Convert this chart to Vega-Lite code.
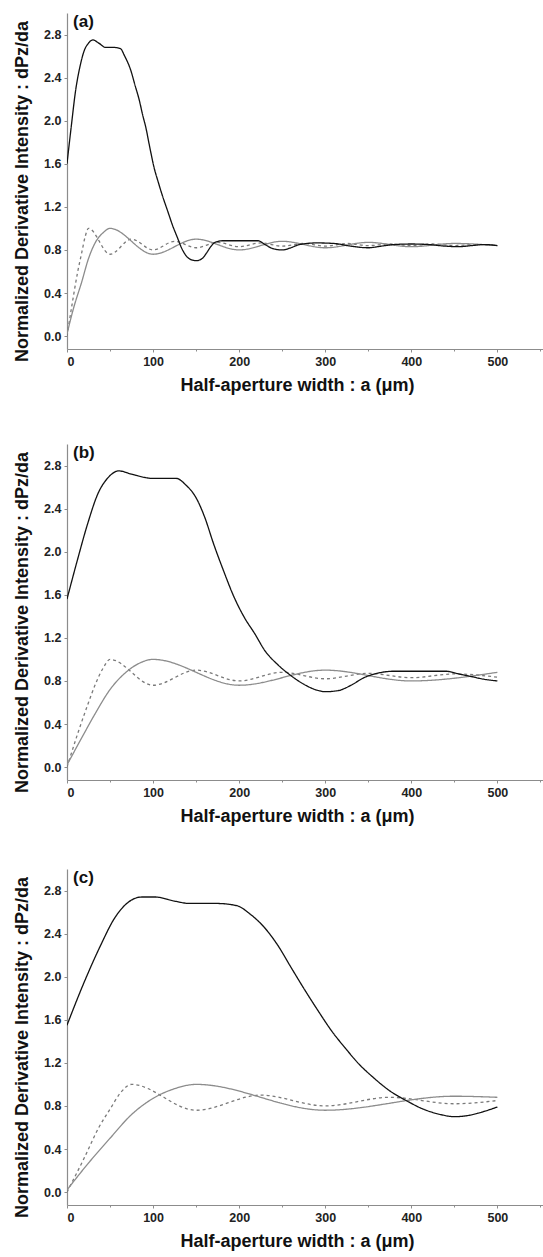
{
"$schema": "https://vega.github.io/schema/vega-lite/v6.json",
"padding": {"left": 13, "top": 12, "right": 0, "bottom": 0},
"background": "white",
"datasets": {
"labels": [{"panel":"a","label":"(a)"},{"panel":"b","label":"(b)"},{"panel":"c","label":"(c)"}],
"curves": [
{"panel":"a","series":"dot","x":0,"y":0.0},{"panel":"a","series":"dot","x":6,"y":0.3},{"panel":"a","series":"dot","x":12.5,"y":0.6},{"panel":"a","series":"dot","x":17,"y":0.77},{"panel":"a","series":"dot","x":21,"y":0.92},{"panel":"a","series":"dot","x":25,"y":1.0},{"panel":"a","series":"dot","x":50,"y":0.76},{"panel":"a","series":"dot","x":75,"y":0.9},{"panel":"a","series":"dot","x":100,"y":0.8},{"panel":"a","series":"dot","x":125,"y":0.88},{"panel":"a","series":"dot","x":150,"y":0.82},{"panel":"a","series":"dot","x":175,"y":0.87},{"panel":"a","series":"dot","x":200,"y":0.83},{"panel":"a","series":"dot","x":225,"y":0.865},{"panel":"a","series":"dot","x":250,"y":0.835},{"panel":"a","series":"dot","x":275,"y":0.86},{"panel":"a","series":"dot","x":300,"y":0.835},{"panel":"a","series":"dot","x":325,"y":0.86},{"panel":"a","series":"dot","x":350,"y":0.84},{"panel":"a","series":"dot","x":375,"y":0.855},{"panel":"a","series":"dot","x":400,"y":0.84},{"panel":"a","series":"dot","x":425,"y":0.855},{"panel":"a","series":"dot","x":450,"y":0.84},{"panel":"a","series":"dot","x":475,"y":0.85},{"panel":"a","series":"dot","x":500,"y":0.84},
{"panel":"a","series":"gray","x":0,"y":0.02},{"panel":"a","series":"gray","x":8,"y":0.27},{"panel":"a","series":"gray","x":17,"y":0.5},{"panel":"a","series":"gray","x":25,"y":0.72},{"panel":"a","series":"gray","x":33,"y":0.87},{"panel":"a","series":"gray","x":42,"y":0.96},{"panel":"a","series":"gray","x":50,"y":1.0},{"panel":"a","series":"gray","x":100,"y":0.76},{"panel":"a","series":"gray","x":150,"y":0.9},{"panel":"a","series":"gray","x":200,"y":0.8},{"panel":"a","series":"gray","x":250,"y":0.88},{"panel":"a","series":"gray","x":300,"y":0.82},{"panel":"a","series":"gray","x":350,"y":0.87},{"panel":"a","series":"gray","x":400,"y":0.83},{"panel":"a","series":"gray","x":450,"y":0.86},{"panel":"a","series":"gray","x":500,"y":0.84},
{"panel":"a","series":"black","x":0,"y":1.6},{"panel":"a","series":"black","x":5,"y":1.95},{"panel":"a","series":"black","x":10,"y":2.28},{"panel":"a","series":"black","x":15,"y":2.5},{"panel":"a","series":"black","x":20,"y":2.65},{"panel":"a","series":"black","x":25,"y":2.72},{"panel":"a","series":"black","x":30,"y":2.75},{"panel":"a","series":"black","x":37,"y":2.72},{"panel":"a","series":"black","x":45,"y":2.68},{"panel":"a","series":"black","x":55,"y":2.68},{"panel":"a","series":"black","x":62,"y":2.67},{"panel":"a","series":"black","x":67,"y":2.6},{"panel":"a","series":"black","x":74,"y":2.47},{"panel":"a","series":"black","x":79,"y":2.33},{"panel":"a","series":"black","x":84,"y":2.19},{"panel":"a","series":"black","x":88,"y":2.05},{"panel":"a","series":"black","x":91.5,"y":1.94},{"panel":"a","series":"black","x":96,"y":1.76},{"panel":"a","series":"black","x":101,"y":1.57},{"panel":"a","series":"black","x":106,"y":1.43},{"panel":"a","series":"black","x":111,"y":1.3},{"panel":"a","series":"black","x":117,"y":1.16},{"panel":"a","series":"black","x":123,"y":1.02},{"panel":"a","series":"black","x":128,"y":0.92},{"panel":"a","series":"black","x":133,"y":0.82},{"panel":"a","series":"black","x":139,"y":0.74},{"panel":"a","series":"black","x":144,"y":0.71},{"panel":"a","series":"black","x":150,"y":0.7},{"panel":"a","series":"black","x":157,"y":0.72},{"panel":"a","series":"black","x":162,"y":0.77},{"panel":"a","series":"black","x":167,"y":0.83},{"panel":"a","series":"black","x":172,"y":0.87},{"panel":"a","series":"black","x":180,"y":0.885},{"panel":"a","series":"black","x":222,"y":0.885},{"panel":"a","series":"black","x":230,"y":0.85},{"panel":"a","series":"black","x":240,"y":0.81},{"panel":"a","series":"black","x":250,"y":0.8},{"panel":"a","series":"black","x":260,"y":0.82},{"panel":"a","series":"black","x":270,"y":0.85},{"panel":"a","series":"black","x":290,"y":0.865},{"panel":"a","series":"black","x":310,"y":0.86},{"panel":"a","series":"black","x":330,"y":0.835},{"panel":"a","series":"black","x":350,"y":0.82},{"panel":"a","series":"black","x":365,"y":0.835},{"panel":"a","series":"black","x":380,"y":0.85},{"panel":"a","series":"black","x":400,"y":0.855},{"panel":"a","series":"black","x":420,"y":0.85},{"panel":"a","series":"black","x":440,"y":0.835},{"panel":"a","series":"black","x":455,"y":0.83},{"panel":"a","series":"black","x":470,"y":0.84},{"panel":"a","series":"black","x":485,"y":0.85},{"panel":"a","series":"black","x":500,"y":0.84},
{"panel":"b","series":"dot","x":0,"y":0.0},{"panel":"b","series":"dot","x":12,"y":0.3},{"panel":"b","series":"dot","x":25,"y":0.6},{"panel":"b","series":"dot","x":33,"y":0.77},{"panel":"b","series":"dot","x":42,"y":0.92},{"panel":"b","series":"dot","x":50,"y":1.0},{"panel":"b","series":"dot","x":100,"y":0.76},{"panel":"b","series":"dot","x":150,"y":0.9},{"panel":"b","series":"dot","x":200,"y":0.8},{"panel":"b","series":"dot","x":250,"y":0.88},{"panel":"b","series":"dot","x":300,"y":0.82},{"panel":"b","series":"dot","x":350,"y":0.87},{"panel":"b","series":"dot","x":400,"y":0.83},{"panel":"b","series":"dot","x":450,"y":0.865},{"panel":"b","series":"dot","x":500,"y":0.835},
{"panel":"b","series":"gray","x":0,"y":0.02},{"panel":"b","series":"gray","x":17,"y":0.27},{"panel":"b","series":"gray","x":33,"y":0.5},{"panel":"b","series":"gray","x":50,"y":0.72},{"panel":"b","series":"gray","x":67,"y":0.87},{"panel":"b","series":"gray","x":83,"y":0.96},{"panel":"b","series":"gray","x":100,"y":1.0},{"panel":"b","series":"gray","x":200,"y":0.76},{"panel":"b","series":"gray","x":300,"y":0.9},{"panel":"b","series":"gray","x":400,"y":0.8},{"panel":"b","series":"gray","x":500,"y":0.88},
{"panel":"b","series":"black","x":0,"y":1.56},{"panel":"b","series":"black","x":12,"y":1.92},{"panel":"b","series":"black","x":24,"y":2.26},{"panel":"b","series":"black","x":36,"y":2.54},{"panel":"b","series":"black","x":48,"y":2.69},{"panel":"b","series":"black","x":60,"y":2.75},{"panel":"b","series":"black","x":75,"y":2.72},{"panel":"b","series":"black","x":90,"y":2.69},{"panel":"b","series":"black","x":100,"y":2.68},{"panel":"b","series":"black","x":127,"y":2.68},{"panel":"b","series":"black","x":138,"y":2.62},{"panel":"b","series":"black","x":150,"y":2.5},{"panel":"b","series":"black","x":160,"y":2.32},{"panel":"b","series":"black","x":170,"y":2.08},{"panel":"b","series":"black","x":182,"y":1.82},{"panel":"b","series":"black","x":194,"y":1.58},{"panel":"b","series":"black","x":206,"y":1.39},{"panel":"b","series":"black","x":218,"y":1.24},{"panel":"b","series":"black","x":230,"y":1.08},{"panel":"b","series":"black","x":245,"y":0.95},{"panel":"b","series":"black","x":260,"y":0.85},{"panel":"b","series":"black","x":275,"y":0.77},{"panel":"b","series":"black","x":290,"y":0.715},{"panel":"b","series":"black","x":300,"y":0.7},{"panel":"b","series":"black","x":315,"y":0.71},{"panel":"b","series":"black","x":330,"y":0.76},{"panel":"b","series":"black","x":345,"y":0.83},{"panel":"b","series":"black","x":360,"y":0.87},{"panel":"b","series":"black","x":380,"y":0.89},{"panel":"b","series":"black","x":440,"y":0.89},{"panel":"b","series":"black","x":455,"y":0.865},{"panel":"b","series":"black","x":470,"y":0.84},{"panel":"b","series":"black","x":485,"y":0.815},{"panel":"b","series":"black","x":500,"y":0.8},
{"panel":"c","series":"dot","x":0,"y":0.0},{"panel":"c","series":"dot","x":19,"y":0.3},{"panel":"c","series":"dot","x":37,"y":0.6},{"panel":"c","series":"dot","x":50,"y":0.77},{"panel":"c","series":"dot","x":62,"y":0.92},{"panel":"c","series":"dot","x":75,"y":1.0},{"panel":"c","series":"dot","x":150,"y":0.76},{"panel":"c","series":"dot","x":225,"y":0.9},{"panel":"c","series":"dot","x":300,"y":0.8},{"panel":"c","series":"dot","x":375,"y":0.88},{"panel":"c","series":"dot","x":450,"y":0.82},{"panel":"c","series":"dot","x":500,"y":0.85},
{"panel":"c","series":"gray","x":0,"y":0.02},{"panel":"c","series":"gray","x":25,"y":0.27},{"panel":"c","series":"gray","x":50,"y":0.5},{"panel":"c","series":"gray","x":75,"y":0.72},{"panel":"c","series":"gray","x":100,"y":0.87},{"panel":"c","series":"gray","x":125,"y":0.96},{"panel":"c","series":"gray","x":150,"y":1.0},{"panel":"c","series":"gray","x":300,"y":0.76},{"panel":"c","series":"gray","x":450,"y":0.89},{"panel":"c","series":"gray","x":500,"y":0.88},
{"panel":"c","series":"black","x":0,"y":1.55},{"panel":"c","series":"black","x":20,"y":1.95},{"panel":"c","series":"black","x":39,"y":2.29},{"panel":"c","series":"black","x":55,"y":2.54},{"panel":"c","series":"black","x":71,"y":2.69},{"panel":"c","series":"black","x":87,"y":2.74},{"panel":"c","series":"black","x":102,"y":2.74},{"panel":"c","series":"black","x":126,"y":2.7},{"panel":"c","series":"black","x":142,"y":2.68},{"panel":"c","series":"black","x":174,"y":2.68},{"panel":"c","series":"black","x":197,"y":2.66},{"panel":"c","series":"black","x":213,"y":2.58},{"panel":"c","series":"black","x":229,"y":2.46},{"panel":"c","series":"black","x":245,"y":2.29},{"panel":"c","series":"black","x":260,"y":2.09},{"panel":"c","series":"black","x":276,"y":1.88},{"panel":"c","series":"black","x":292,"y":1.68},{"panel":"c","series":"black","x":308,"y":1.49},{"panel":"c","series":"black","x":323,"y":1.34},{"panel":"c","series":"black","x":339,"y":1.19},{"panel":"c","series":"black","x":355,"y":1.07},{"panel":"c","series":"black","x":375,"y":0.94},{"panel":"c","series":"black","x":394,"y":0.85},{"panel":"c","series":"black","x":414,"y":0.77},{"panel":"c","series":"black","x":434,"y":0.72},{"panel":"c","series":"black","x":450,"y":0.7},{"panel":"c","series":"black","x":465,"y":0.71},{"panel":"c","series":"black","x":485,"y":0.75},{"panel":"c","series":"black","x":500,"y":0.79}
]
},
"spacing": 95,
"bounds": "flush",
"vconcat": [
{
"width": 476, "height": 336,
"layer": [
{"data": {"name": "curves"}, "transform": [{"filter": "datum.panel == 'a'"}],
 "mark": {"type": "line", "interpolate": "monotone", "clip": true},
 "encoding": {
  "x": {"field": "x", "type": "quantitative", "scale": {"domain": [0, 553], "nice": false, "zero": false},
        "axis": {"values": [0,50,100,150,200,250,300,350,400,450,500,550], "labelExpr": "datum.value % 100 == 0 ? datum.label : ''", "tickSize": {"condition": {"test": "datum.value % 100 == 0", "value": 3}, "value": 2}, "labelPadding": 3, "title": "Half-aperture width : a (μm)", "titleX": 230, "titlePadding": 9}},
  "y": {"field": "y", "type": "quantitative", "scale": {"domain": [-0.12, 3.0], "nice": false, "zero": false},
        "axis": {"values": [0,0.2,0.4,0.6,0.8,1.0,1.2,1.4,1.6,1.8,2.0,2.2,2.4,2.6,2.8], "labelExpr": "round(datum.value*10) % 4 == 0 ? format(datum.value, '.1f') : ''", "tickSize": {"condition": {"test": "round(datum.value*10) % 4 == 0", "value": 3}, "value": 2}, "labelPadding": 3, "title": "Normalized Derivative Intensity : dPz/da", "titleX": -45, "titleY": 178, "titleBaseline": "middle"}},
  "color": {"field": "series", "type": "nominal", "scale": {"domain": ["dot","gray","black"], "range": ["#7a7a7a","#8c8c8c","#111111"]}, "legend": null},
  "strokeWidth": {"field": "series", "type": "nominal", "scale": {"domain": ["dot","gray","black"], "range": [1.3,1.3,2.7]}, "legend": null},
  "strokeDash": {"field": "series", "type": "nominal", "scale": {"domain": ["dot","gray","black"], "range": [[3,3],[1,0],[1,0]]}, "legend": null}
 }},
{"data": {"name": "labels"}, "transform": [{"filter": "datum.panel == 'a'"}],
 "mark": {"type": "text", "align": "left", "baseline": "middle", "fontSize": 17, "fontWeight": "bold", "font": "Liberation Sans", "color": "#111"},
 "encoding": {"x": {"datum": 7, "type": "quantitative"}, "y": {"datum": 2.92, "type": "quantitative"}, "text": {"field": "label"}}}
]
},
{
"spacing": 89,
"bounds": "flush",
"vconcat": [
{
"width": 476, "height": 336,
"layer": [
{"data": {"name": "curves"}, "transform": [{"filter": "datum.panel == 'b'"}],
 "mark": {"type": "line", "interpolate": "monotone", "clip": true},
 "encoding": {
  "x": {"field": "x", "type": "quantitative", "scale": {"domain": [0, 553], "nice": false, "zero": false},
        "axis": {"values": [0,50,100,150,200,250,300,350,400,450,500,550], "labelExpr": "datum.value % 100 == 0 ? datum.label : ''", "tickSize": {"condition": {"test": "datum.value % 100 == 0", "value": 3}, "value": 2}, "labelPadding": 3, "title": "Half-aperture width : a (μm)", "titleX": 230, "titlePadding": 9}},
  "y": {"field": "y", "type": "quantitative", "scale": {"domain": [-0.12, 3.0], "nice": false, "zero": false},
        "axis": {"values": [0,0.2,0.4,0.6,0.8,1.0,1.2,1.4,1.6,1.8,2.0,2.2,2.4,2.6,2.8], "labelExpr": "round(datum.value*10) % 4 == 0 ? format(datum.value, '.1f') : ''", "tickSize": {"condition": {"test": "round(datum.value*10) % 4 == 0", "value": 3}, "value": 2}, "labelPadding": 3, "title": "Normalized Derivative Intensity : dPz/da", "titleX": -45, "titleY": 178, "titleBaseline": "middle"}},
  "color": {"field": "series", "type": "nominal", "scale": {"domain": ["dot","gray","black"], "range": ["#7a7a7a","#8c8c8c","#111111"]}, "legend": null},
  "strokeWidth": {"field": "series", "type": "nominal", "scale": {"domain": ["dot","gray","black"], "range": [1.3,1.3,2.7]}, "legend": null},
  "strokeDash": {"field": "series", "type": "nominal", "scale": {"domain": ["dot","gray","black"], "range": [[3,3],[1,0],[1,0]]}, "legend": null}
 }},
{"data": {"name": "labels"}, "transform": [{"filter": "datum.panel == 'b'"}],
 "mark": {"type": "text", "align": "left", "baseline": "middle", "fontSize": 17, "fontWeight": "bold", "font": "Liberation Sans", "color": "#111"},
 "encoding": {"x": {"datum": 7, "type": "quantitative"}, "y": {"datum": 2.92, "type": "quantitative"}, "text": {"field": "label"}}}
]
},
{
"width": 476, "height": 336,
"layer": [
{"data": {"name": "curves"}, "transform": [{"filter": "datum.panel == 'c'"}],
 "mark": {"type": "line", "interpolate": "monotone", "clip": true},
 "encoding": {
  "x": {"field": "x", "type": "quantitative", "scale": {"domain": [0, 553], "nice": false, "zero": false},
        "axis": {"values": [0,50,100,150,200,250,300,350,400,450,500,550], "labelExpr": "datum.value % 100 == 0 ? datum.label : ''", "tickSize": {"condition": {"test": "datum.value % 100 == 0", "value": 3}, "value": 2}, "labelPadding": 3, "title": "Half-aperture width : a (μm)", "titleX": 230, "titlePadding": 9}},
  "y": {"field": "y", "type": "quantitative", "scale": {"domain": [-0.12, 3.0], "nice": false, "zero": false},
        "axis": {"values": [0,0.2,0.4,0.6,0.8,1.0,1.2,1.4,1.6,1.8,2.0,2.2,2.4,2.6,2.8], "labelExpr": "round(datum.value*10) % 4 == 0 ? format(datum.value, '.1f') : ''", "tickSize": {"condition": {"test": "round(datum.value*10) % 4 == 0", "value": 3}, "value": 2}, "labelPadding": 3, "title": "Normalized Derivative Intensity : dPz/da", "titleX": -45, "titleY": 178, "titleBaseline": "middle"}},
  "color": {"field": "series", "type": "nominal", "scale": {"domain": ["dot","gray","black"], "range": ["#7a7a7a","#8c8c8c","#111111"]}, "legend": null},
  "strokeWidth": {"field": "series", "type": "nominal", "scale": {"domain": ["dot","gray","black"], "range": [1.3,1.3,2.7]}, "legend": null},
  "strokeDash": {"field": "series", "type": "nominal", "scale": {"domain": ["dot","gray","black"], "range": [[3,3],[1,0],[1,0]]}, "legend": null}
 }},
{"data": {"name": "labels"}, "transform": [{"filter": "datum.panel == 'c'"}],
 "mark": {"type": "text", "align": "left", "baseline": "middle", "fontSize": 17, "fontWeight": "bold", "font": "Liberation Sans", "color": "#111"},
 "encoding": {"x": {"datum": 7, "type": "quantitative"}, "y": {"datum": 2.92, "type": "quantitative"}, "text": {"field": "label"}}}
]
}
]
}
],
"config": {
 "font": "Liberation Sans",
 "view": {"stroke": null},
 "axis": {"grid": false, "domainColor": "#8c8c8c", "domainWidth": 1.2, "tickColor": "#8c8c8c", "tickWidth": 1,
          "labelFont": "Liberation Sans", "labelFontWeight": "bold", "labelFontSize": 12.5, "labelColor": "#222222",
          "titleFont": "Liberation Sans", "titleFontWeight": "bold", "titleFontSize": 18, "titleColor": "#111111"}
}
}
